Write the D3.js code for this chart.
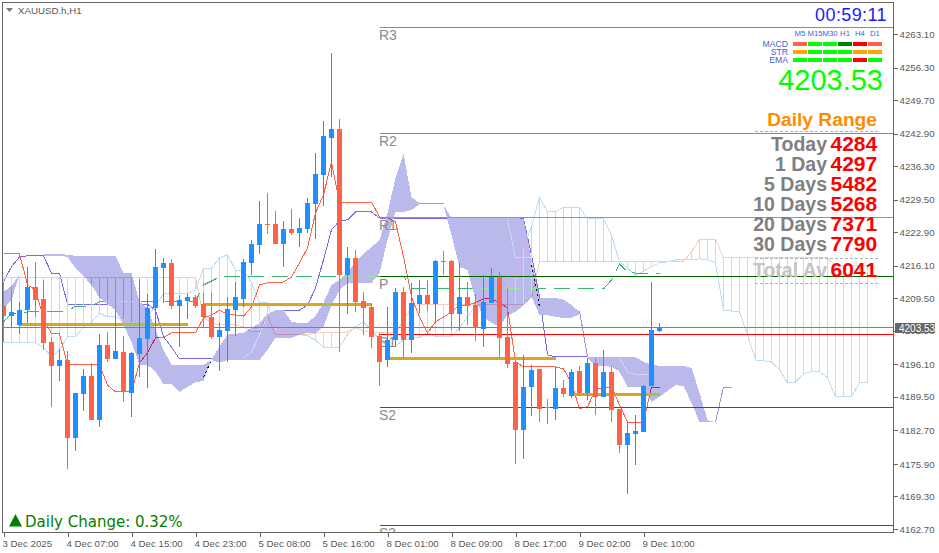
<!DOCTYPE html>
<html>
<head>
<meta charset="utf-8">
<script src="https://cdn.jsdelivr.net/npm/d3@7"></script>
<style>
  html, body { margin: 0; padding: 0; background: #fff; }
  svg { display: block; }
  text { font-family: "Liberation Sans", Arial, sans-serif; }
</style>
</head>
<body>
<div id="chart"></div>
<script>
// hourly candles, bar 0 is 3 Dec 2025 23:00
const candleOpen = [4207.9,4205.9,4204.1,4207.1,4211.8,4209.4,4200.6,4195.8,4197.0,4181.2,
  4190.1,4193.7,4184.8,4200.0,4197.2,4198.6,4190.3,4198.2,4201.3,4207.5,
  4215.6,4216.7,4207.9,4209.0,4209.8,4208.3,4205.7,4201.7,4202.9,4207.1,
  4209.4,4216.7,4220.3,4224.6,4224.6,4220.5,4223.6,4222.7,4223.6,4228.6,
  4234.5,4242.0,4243.8,4214.2,4217.7,4209.0,4207.7,4201.9,4197.0,4201.0,
  4210.8,4201.0,4208.3,4210.2,4208.3,4217.1,4217.1,4206.3,4209.8,4208.1,
  4203.3,4208.6,4213.8,4201.7,4196.6,4182.8,4191.5,4195.2,4187.5,4187.1,
  4191.3,4189.7,4194.8,4190.3,4196.4,4189.5,4194.6,4187.1,4179.8,4182.0,
  4182.4,4191.7,4202.9];
const candleHigh = [4212.8,4209.8,4208.8,4215.9,4216.9,4213.2,4201.7,4199.2,4198.8,4190.3,
  4195.2,4196.4,4202.3,4202.7,4207.1,4201.9,4198.6,4213.4,4210.4,4219.5,
  4217.7,4217.5,4210.2,4210.4,4210.2,4210.6,4210.6,4204.5,4209.8,4212.8,
  4217.5,4221.3,4229.2,4230.9,4227.2,4225.2,4227.6,4225.8,4229.8,4239.0,
  4245.5,4259.3,4245.9,4219.9,4219.3,4210.8,4208.6,4202.5,4207.7,4211.6,
  4211.8,4212.6,4213.2,4213.2,4217.3,4219.1,4217.3,4216.7,4212.8,4210.4,
  4214.2,4215.6,4214.8,4211.6,4196.6,4198.0,4196.0,4195.2,4189.1,4195.6,
  4192.9,4195.2,4195.8,4197.4,4197.4,4199.0,4195.8,4187.1,4184.4,4185.8,
  4191.9,4212.8,4204.5];
const candleLow = [4200.6,4203.7,4202.3,4204.5,4205.7,4199.0,4187.5,4192.7,4174.9,4178.5,
  4186.6,4184.8,4183.4,4196.6,4197.2,4188.5,4185.4,4193.5,4191.3,4201.5,
  4208.6,4207.3,4199.6,4205.3,4207.5,4203.7,4201.3,4194.8,4196.6,4201.9,
  4207.7,4214.2,4218.5,4222.5,4220.5,4215.9,4222.3,4219.9,4222.7,4221.5,
  4228.2,4234.1,4198.6,4206.3,4206.7,4202.1,4199.4,4191.7,4195.6,4199.6,
  4197.4,4198.4,4206.5,4206.9,4204.5,4214.2,4203.1,4202.9,4204.1,4200.8,
  4199.6,4208.6,4197.6,4195.4,4175.9,4176.9,4185.6,4184.4,4184.0,4184.8,
  4189.5,4189.3,4189.7,4188.9,4185.8,4189.5,4184.4,4178.1,4169.8,4175.7,
  4182.4,4191.7,4202.7];
const candleClose = [4205.9,4206.7,4207.1,4211.8,4209.2,4200.4,4195.8,4197.0,4181.2,4190.3,
  4193.7,4184.8,4200.0,4197.2,4198.8,4190.5,4198.4,4201.5,4207.5,4215.9,
  4216.7,4207.9,4209.2,4209.8,4207.9,4205.7,4201.7,4203.1,4207.3,4209.8,
  4216.9,4220.5,4224.6,4224.4,4220.5,4223.6,4222.7,4223.8,4228.8,4234.7,
  4242.4,4243.8,4214.2,4217.7,4208.8,4207.5,4201.7,4196.6,4201.0,4210.8,
  4201.0,4208.6,4210.2,4208.3,4217.1,4216.9,4206.3,4209.8,4207.9,4203.5,
  4208.8,4213.8,4201.5,4196.2,4182.8,4191.5,4195.0,4187.1,4187.3,4191.3,
  4190.1,4194.6,4190.3,4196.4,4189.5,4194.6,4186.9,4179.8,4182.2,4182.6,
  4191.7,4203.1,4203.5];

// ichimoku lines
const tenkan = [4218.5,4218.5,4218.5,4212.2,4211.2,4205.5,4202.3,4202.3,4196.0,4196.0,
  4196.0,4196.0,4196.0,4191.9,4190.5,4190.5,4190.5,4196.4,4198.4,4201.5,
  4201.5,4202.5,4202.5,4202.5,4202.5,4205.5,4206.1,4207.1,4206.3,4206.1,
  4205.9,4207.7,4212.2,4212.6,4212.6,4212.8,4213.8,4216.7,4219.7,4226.8,
  4230.5,4237.1,4229.0,4229.0,4229.0,4229.0,4229.0,4226.0,4225.8,4225.0,
  4217.9,4209.8,4205.7,4202.5,4204.7,4205.7,4206.7,4208.1,4208.1,4208.6,
  4209.4,4209.4,4208.6,4207.5,4196.6,4195.6,4195.6,4195.6,4195.6,4195.6,
  4195.2,4192.3,4187.1,4187.5,4190.9,4191.5,4191.5,4187.9,4184.4,4184.4,
  4184.4,4191.5,4191.5];
const kijun = [4212.8,4215.9,4217.9,4218.1,4218.1,4218.1,4214.6,4214.6,4208.3,4208.3,
  4208.3,4208.3,4208.3,4208.3,4208.3,4208.3,4208.3,4208.3,4208.3,4207.1,
  4201.7,4199.6,4197.2,4197.2,4197.2,4197.2,4197.2,4197.2,4197.2,4197.2,
  4197.2,4197.2,4197.2,4203.1,4206.1,4207.1,4207.1,4207.1,4208.1,4211.6,
  4217.3,4223.4,4225.2,4225.4,4227.0,4227.0,4227.0,4225.8,4225.6,4225.6,
  4225.6,4225.6,4225.6,4225.6,4225.6,4225.6,4225.6,4225.6,4225.6,4225.6,
  4225.6,4225.6,4225.6,4225.6,4225.6,4225.6,4218.3,4209.8,4198.0,4197.6,
  4197.6,4197.6,4197.6,4197.6,4197.4,4197.4,4197.4,4197.4,4197.4,4197.4,
  4194.0,4194.0,4194.0];
const spanA = [4200.6,4200.6,4200.6,4200.6,4200.4,4199.6,4197.6,4199.0,4201.7,4201.7,
  4203.7,4204.7,4206.5,4205.7,4205.7,4205.1,4204.5,4204.1,4205.5,4208.1,
  4210.4,4210.4,4210.4,4210.4,4211.2,4215.6,4215.6,4217.7,4218.3,4215.2,
  4215.2,4212.6,4208.6,4208.6,4203.5,4202.5,4202.3,4202.1,4201.9,4201.0,
  4199.6,4199.6,4199.6,4202.1,4203.7,4204.7,4203.1,4201.0,4199.8,4199.8,
  4201.0,4201.5,4201.5,4202.5,4201.7,4201.7,4201.7,4203.5,4205.7,4208.1,
  4208.8,4208.3,4208.3,4210.8,4213.8,4219.9,4224.0,4230.0,4227.0,4227.0,
  4228.0,4228.0,4228.0,4225.6,4225.6,4225.6,4222.3,4216.9,4215.6,4214.2,
  4215.0,4215.9,4216.7,4216.9,4217.3,4217.3,4217.3,4217.5,4217.3,4216.7,
  4207.1,4206.9,4206.7,4202.1,4197.0,4196.8,4196.6,4195.0,4192.3,4192.5,
  4194.2,4194.6,4194.6,4193.4,4189.5,4189.5,4189.5,4192.5,4192.3];
const spanB = [4213.8,4213.8,4213.8,4213.8,4213.8,4213.8,4213.8,4213.8,4213.8,4213.8,
  4213.8,4213.8,4213.8,4213.8,4213.8,4213.8,4213.8,4213.8,4213.8,4213.8,
  4213.8,4213.8,4213.8,4213.8,4213.8,4205.5,4204.5,4204.1,4204.1,4204.1,
  4203.7,4202.7,4202.7,4206.1,4202.1,4202.1,4202.1,4202.1,4202.1,4202.5,
  4202.5,4202.5,4202.5,4202.7,4203.5,4202.9,4202.5,4202.5,4202.5,4202.5,
  4205.1,4207.7,4208.3,4208.3,4208.3,4208.3,4208.3,4208.3,4208.3,4208.3,
  4208.3,4208.3,4208.3,4208.3,4208.3,4208.3,4209.6,4216.9,4216.9,4216.9,
  4216.9,4216.9,4216.9,4216.9,4216.9,4216.9,4216.9,4216.9,4216.9,4216.9,
  4216.9,4216.9,4216.9,4216.9,4216.9,4216.9,4218.9,4221.5,4221.5,4221.5,
  4217.7,4217.7,4217.7,4217.7,4217.7,4217.7,4217.7,4217.7,4217.7,4217.7,
  4217.7,4217.7,4217.7,4217.7,4216.1,4216.1,4216.1,4216.1,4216.1];
const greenLine = [4204.7,4206.5,4206.5,4206.7,4206.9,4206.9,4206.9,4206.9,4206.9,4207.9,
  4207.9,4207.9,4208.8,4208.8,4208.8,4208.8,4208.8,4208.8,4208.8,4208.8,
  4208.8,4208.8,4208.8,4208.8,4208.8,4212.2,4213.0,4213.8,4214.0,4214.0,
  4214.0,4214.0,4214.0,4214.0,4214.0,4214.0,4214.0,4214.0,4214.0,4214.0,
  4214.0,4214.0,4214.0,4214.0,4214.0,4214.0,4214.0,4214.0,4214.0,4214.0,
  4214.0,4211.6,4211.4,4211.4,4211.4,4211.4,4211.4,4211.4,4211.4,4211.4,
  4211.4,4211.4,4211.4,4211.4,4211.4,4211.4,4211.4,4211.4,4211.4,4211.4,
  4211.4,4211.4,4211.4,4211.4,4211.4,4211.4,4213.2,4216.5,4214.8,4214.6,
  4214.6,4214.6,4214.6];

// lavender band, null where it is absent
const bandUpper = [4210.8,4212.0,4214.2,null,null,4218.5,4218.5,4218.5,4218.3,4218.1,
  4218.1,4218.1,4218.1,4218.1,4218.1,4214.6,4214.6,4208.8,4207.5,4203.1,
  4199.0,4196.0,4196.0,4196.0,4196.0,4196.0,4197.0,4199.8,4202.1,4202.3,
  4202.5,4203.5,4204.5,4206.3,4207.1,4207.1,4204.7,4204.5,4204.5,4205.9,
  4208.6,4212.2,4213.2,4214.8,4216.7,4218.5,4219.9,4221.3,4226.8,4233.9,
  4238.8,4230.0,4228.8,null,null,4228.4,4225.8,4225.8,4225.8,4225.8,
  4225.8,4225.8,4225.8,4225.8,4225.8,4225.6,4217.3,4209.6,4209.6,4209.6,
  4209.2,4208.1,4206.7,4197.6,4197.6,4197.6,4197.6,4197.6,4197.6,4197.6,
  4196.6,4196.0,4195.8,4195.8,4195.8,4195.8,4195.4,4190.3,4184.8,4184.4];
const bandLower = [4207.3,4209.2,4214.2,null,null,4218.1,4218.1,4218.1,4217.9,4215.6,
  4214.0,4212.2,4209.6,4208.3,4207.1,4204.1,4200.6,4196.0,4196.0,4194.6,
  4192.1,4192.1,4190.5,4191.5,4192.5,4192.7,4197.0,4196.4,4197.0,4197.0,
  4197.0,4197.0,4197.0,4199.0,4201.5,4201.5,4201.5,4202.1,4202.5,4202.5,
  4203.7,4208.1,4211.2,4212.6,4212.6,4212.6,4212.6,4214.6,4221.3,4227.0,
  4227.0,4227.4,4228.6,null,null,4228.4,4222.3,4215.9,4215.2,4209.2,
  4205.7,4204.5,4203.7,4206.1,4206.7,4208.1,4209.8,4206.1,4206.1,4205.7,
  4205.5,4205.5,4206.3,4197.4,4195.8,4195.8,4195.6,4194.6,4191.5,4191.5,
  4191.5,4188.5,4189.5,4190.7,4191.9,4191.7,4188.3,4184.4,4184.4,4184.4];
const bandLobes = [[0, 2], [5, 52], [55, 72], [73, 89]];

// short loose lines round the band, [bar, price]
const slateSegments = [
  [[52, 4228.8], [55, 4228.8]],
  [[72, 4206.9], [73, 4197.6]],
  [[89, 4184.4], [90, 4191.5], [91, 4191.5]]
];
const paleSegments = [
  [[30, 4197.4], [31, 4198.6], [32, 4202.1], [33, 4206.1]],
  [[63, 4225.4], [64, 4217.7], [65, 4217.7], [66, 4217.7]],
  [[77, 4197.4], [78, 4194.6], [79, 4194.0], [80, 4194.0], [81, 4194.0]]
];
const dottedSegments = [
  [[25, 4193.5], [26, 4197.0]],
  [[66, 4216.3], [67, 4207.7]]
];

// pivot levels
const levelNames = ['R3', 'R2', 'R1', 'P', 'S1', 'S2', 'S3'];
const levelPrices = [4264.5, 4243.0, 4225.8, 4214.0, 4202.2, 4187.4, 4163.5];
const levelColours = ['#6f9a7c', '#55b055', '#33dd33', '#006400', '#ff0000', '#c8143c', '#a52a2a'];

// thick daily levels
const goldStart = [2, 25, 48, 71];
const goldEnd = [23, 46, 69, 82];
const goldPrice = [4204.2, 4208.3, 4197.2, 4189.9];

const bidPrice = 4203.53;

const priceTicks = [4263.10, 4256.30, 4249.70, 4242.90, 4236.30, 4229.50, 4222.90, 4216.10,
  4209.50, 4202.90, 4196.10, 4189.50, 4182.70, 4175.90, 4169.30, 4162.70];
const timeTicks = [0, 8, 16, 24, 32, 40, 48, 56, 64, 72, 80];
const timeLabels = ['3 Dec 2025', '4 Dec 07:00', '4 Dec 15:00', '4 Dec 23:00', '5 Dec 08:00',
  '5 Dec 16:00', '8 Dec 01:00', '8 Dec 09:00', '8 Dec 17:00', '9 Dec 02:00', '9 Dec 10:00'];

// signal table
const timeframes = ['M5', 'M15', 'M30', 'H1', 'H4', 'D1'];
const signalRows = ['MACD', 'STR', 'EMA'];
const macdSignals = ['#ff6347', '#00ff00', '#00ff00', '#008000', '#ff0000', '#ff6347'];
const strSignals = ['#ffa500', '#00ff00', '#00ff00', '#00ff00', '#ffa500', '#ffa500'];
const emaSignals = ['#00ff00', '#00ff00', '#00ff00', '#00ff00', '#ff0000', '#00ff00'];

// daily range panel
const rangeLabels = ['Today', '1 Day', '5 Days', '10 Days', '20 Days', '30 Days', 'Total Av'];
const rangeValues = [4284, 4297, 5482, 5268, 7371, 7790, 6041];
const rangeBaselines = [151, 171, 191, 211, 231, 251, 277];

const width = 939, height = 553;
const plotLeft = 3, plotTop = 3, plotRight = 893, plotBottom = 532;
const lavender = '#b9b9ec', peach = '#f5cfbe', skyLine = '#bcdcf8';

const x = d3.scaleLinear().domain([0, 108]).range([3.5, 867.5]);
const y = d3.scaleLinear().domain([4263.1, 4162.7]).range([34, 529]);
const snap = v => Math.floor(v) + 0.5;

const svg = d3.select('#chart').append('svg:svg')
  .attr('width', width)
  .attr('height', height)
  .attr('shape-rendering', 'crispEdges');

const defs = svg.append('defs');
defs.append('clipPath').attr('id', 'plot_clip')
  .append('rect')
  .attr('x', plotLeft)
  .attr('y', plotTop)
  .attr('width', plotRight - plotLeft)
  .attr('height', plotBottom - plotTop);

const bandArea = d3.area()
  .x(d => x(d.i))
  .y0(d => y(d.lo))
  .y1(d => y(d.up));

const lobePoints = bandLobes.map(function(lobe) {
  return d3.range(lobe[0], lobe[1] + 1).map(i => ({i: i, up: bandUpper[i], lo: bandLower[i]}));
});

defs.append('clipPath').attr('id', 'band_clip')
  .selectAll('path')
  .data(lobePoints)
  .join('path')
  .attr('d', bandArea);

const seriesLine = d3.line()
  .defined(d => d !== null)
  .x((d, i) => x(i))
  .y(d => y(d));
const segmentLine = d3.line()
  .x(d => x(d[0]))
  .y(d => y(d[1]));

const plot = svg.append('g').attr('clip-path', 'url(#plot_clip)');

function addLine(parent, data, colour, dash) {
  return parent.append('path')
    .attr('d', seriesLine(data))
    .attr('fill', 'none')
    .attr('stroke', colour)
    .attr('stroke-width', 1)
    .attr('stroke-dasharray', dash || null);
}

function addSegments(parent, segments, colour, dash) {
  parent.append('g')
    .selectAll('path')
    .data(segments)
    .join('path')
    .attr('d', segmentLine)
    .attr('fill', 'none')
    .attr('stroke', colour)
    .attr('stroke-dasharray', dash || null);
}

function addGold(parent, colour) {
  parent.append('g')
    .selectAll('line')
    .data(goldPrice)
    .join('line')
    .attr('x1', (d, i) => x(goldStart[i]))
    .attr('x2', (d, i) => x(goldEnd[i]))
    .attr('y1', d => snap(y(d)))
    .attr('y2', d => snap(y(d)))
    .attr('stroke', colour)
    .attr('stroke-width', 3);
}

function addCloudBars(parent, topColour, bottomColour) {
  parent.append('g')
    .selectAll('line')
    .data(spanA)
    .join('line')
    .attr('x1', (d, i) => x(i))
    .attr('x2', (d, i) => x(i))
    .attr('y1', d => y(d))
    .attr('y2', (d, i) => y(spanB[i]))
    .attr('stroke', (d, i) => spanB[i] > d ? topColour : bottomColour);
}

addLine(plot, kijun, '#7b68ee');

plot.append('g')
  .selectAll('path')
  .data(lobePoints)
  .join('path')
  .attr('d', bandArea)
  .attr('fill', lavender);

addCloudBars(plot, peach, skyLine);
addLine(plot, spanA, skyLine);
addLine(plot, spanB, peach);
addLine(plot, greenLine, '#3cb371', '16,8');
addLine(plot, tenkan, '#ff6347');
addSegments(plot, slateSegments, '#9d93e6');
addGold(plot, '#daa520');

// marks crossing the band change tone there
const inBand = plot.append('g').attr('clip-path', 'url(#band_clip)');
addCloudBars(inBand, '#a5859f', '#cdd3f4');
addLine(inBand, spanA, '#e6a4e2');
addLine(inBand, spanB, '#b98fbd');
addLine(inBand, greenLine, '#9de89d', '16,8');
addLine(inBand, tenkan, '#c0245a');
addGold(inBand, '#9acd32');
addSegments(plot, paleSegments, '#d3d7f6');
addSegments(plot, dottedSegments, '#111', '2,3');

// pivot levels
plot.append('g')
  .selectAll('line')
  .data(levelPrices)
  .join('line')
  .attr('x1', x(47))
  .attr('x2', plotRight)
  .attr('y1', d => snap(y(d)))
  .attr('y2', d => snap(y(d)))
  .attr('stroke', (d, i) => levelColours[i]);

plot.append('g')
  .selectAll('text')
  .data(levelNames)
  .join('text')
  .attr('x', x(47) - 0.5)
  .attr('y', (d, i) => snap(y(levelPrices[i])) + 12.5)
  .attr('font-size', 14)
  .attr('fill', '#8a8a8a')
  .text(d => d);

// bid line
plot.append('line')
  .attr('x1', plotLeft)
  .attr('x2', plotRight)
  .attr('y1', snap(y(bidPrice)))
  .attr('y2', snap(y(bidPrice)))
  .attr('stroke', '#808080');

// candles
const candles = plot.append('g')
  .selectAll('g.candle')
  .data(candleOpen)
  .join('g')
  .attr('class', 'candle')
  .attr('fill', (d, i) => candleClose[i] >= d ? '#1e90ff' : '#ff6347');
candles.append('rect')
  .attr('x', (d, i) => x(i) - 0.5)
  .attr('width', 1)
  .attr('y', (d, i) => Math.round(y(candleHigh[i])))
  .attr('height', (d, i) => Math.round(y(candleLow[i])) - Math.round(y(candleHigh[i])));
candles.append('rect')
  .attr('x', (d, i) => x(i) - 2.5)
  .attr('width', 5)
  .attr('y', (d, i) => Math.round(y(Math.max(d, candleClose[i]))))
  .attr('height', (d, i) => Math.max(1, Math.round(y(Math.min(d, candleClose[i]))) - Math.round(y(Math.max(d, candleClose[i])))));

// frame and axes
svg.append('path')
  .attr('d', 'M' + (plotLeft - 0.5) + ',' + plotBottom + 'V' + (plotTop - 0.5) + 'H' + (plotRight + 0.5))
  .attr('fill', 'none')
  .attr('stroke', '#666');

const axisRight = svg.append('g')
  .attr('transform', 'translate(' + (plotRight + 0.5) + ',0)')
  .call(d3.axisRight(y).tickValues(priceTicks).tickSize(4).tickSizeOuter(0).tickPadding(2).tickFormat(d3.format('.2f')));
axisRight.select('.domain').attr('d', 'M0,' + (plotTop - 0.5) + 'V' + (plotBottom + 0.5)).attr('stroke', '#666');
axisRight.selectAll('line').attr('stroke', '#666');
axisRight.selectAll('text').attr('font-size', 9.7).attr('fill', '#5a5a5a').attr('font-family', '"Liberation Sans"');

const axisBottom = svg.append('g')
  .attr('transform', 'translate(0,' + (plotBottom + 0.5) + ')')
  .call(d3.axisBottom(x).tickValues(timeTicks).tickSize(4).tickSizeOuter(0).tickPadding(4)
    .tickFormat((d, i) => timeLabels[i]));
axisBottom.select('.domain').attr('d', 'M' + (plotLeft - 1) + ',0H' + (plotRight + 1)).attr('stroke', '#666');
axisBottom.selectAll('line').attr('stroke', '#666');
axisBottom.selectAll('text')
  .attr('font-size', 9.7)
  .attr('fill', '#5a5a5a')
  .attr('font-family', '"Liberation Sans"')
  .attr('text-anchor', 'start')
  .attr('x', -1.5);

// current price tag
svg.append('rect')
  .attr('x', 895).attr('y', 323)
  .attr('width', 40).attr('height', 10)
  .attr('fill', '#666');
svg.append('text')
  .attr('x', 899).attr('y', 332)
  .attr('font-size', 10)
  .attr('fill', '#fff')
  .text(d3.format('.2f')(bidPrice));

// symbol caption
svg.append('path')
  .attr('d', 'M6,8h7l-3.5,4z')
  .attr('fill', '#777')
  .attr('shape-rendering', 'auto');
svg.append('text')
  .attr('x', 18).attr('y', 14)
  .attr('font-size', 9.7)
  .attr('fill', '#555')
  .text('XAUUSD.h,H1');

// countdown
svg.append('text')
  .attr('x', 887).attr('y', 21)
  .attr('text-anchor', 'end')
  .attr('font-size', 18)
  .attr('letter-spacing', 0.4)
  .attr('fill', '#1a1aff')
  .text('00:59:11');

// signal table
const colScale = d3.scaleBand().domain(timeframes).range([793, 882]).paddingInner(0.06);
const rowScale = d3.scalePoint().domain(signalRows).range([44, 60]);
const signalColours = [macdSignals, strSignals, emaSignals];

svg.append('g')
  .selectAll('text')
  .data(timeframes)
  .join('text')
  .attr('x', d => colScale(d) + colScale.bandwidth() / 2)
  .attr('y', 36)
  .attr('text-anchor', 'middle')
  .attr('font-size', 7.8)
  .attr('fill', '#3f5fd8')
  .text(d => d);
svg.append('g')
  .selectAll('text')
  .data(signalRows)
  .join('text')
  .attr('x', 788)
  .attr('y', d => rowScale(d) + 3)
  .attr('text-anchor', 'end')
  .attr('font-size', 8.7)
  .attr('fill', '#3f5fd8')
  .text(d => d);
signalRows.forEach(function(row, r) {
  svg.append('g')
    .selectAll('rect')
    .data(signalColours[r])
    .join('rect')
    .attr('x', (d, i) => colScale(timeframes[i]))
    .attr('y', rowScale(row) - 2)
    .attr('width', colScale.bandwidth())
    .attr('height', 4)
    .attr('fill', d => d);
});

// big price
svg.append('text')
  .attr('x', 883).attr('y', 90)
  .attr('text-anchor', 'end')
  .attr('font-size', 29)
  .attr('fill', '#00ff00')
  .text('4203.53');

// daily range panel
svg.append('text')
  .attr('x', 877).attr('y', 126)
  .attr('text-anchor', 'end')
  .attr('font-size', 19.2)
  .attr('font-weight', 'bold')
  .attr('fill', '#ff8c00')
  .text('Daily Range');

svg.append('g')
  .selectAll('line')
  .data([131, 258, 283])
  .join('line')
  .attr('x1', 755).attr('x2', 878)
  .attr('y1', d => d + 0.5).attr('y2', d => d + 0.5)
  .attr('stroke', '#b0b0b0')
  .attr('stroke-dasharray', '3,2');

svg.append('g')
  .selectAll('text')
  .data(rangeLabels)
  .join('text')
  .attr('x', 827)
  .attr('y', (d, i) => rangeBaselines[i])
  .attr('text-anchor', 'end')
  .attr('font-size', 19.5)
  .attr('font-weight', 'bold')
  .attr('fill', (d, i) => i === 6 ? '#c4c4c4' : '#808080')
  .text(d => d);
svg.append('g')
  .selectAll('text')
  .data(rangeValues)
  .join('text')
  .attr('x', 830.5)
  .attr('y', (d, i) => rangeBaselines[i])
  .attr('font-size', 21)
  .attr('font-weight', 'bold')
  .attr('fill', '#ff0000')
  .text(d => d);

// daily change
svg.append('path')
  .attr('d', 'M9,526.5L15.5,514L22,526.5Z')
  .attr('fill', '#008000')
  .attr('shape-rendering', 'auto');
svg.append('text')
  .attr('x', 25).attr('y', 527)
  .style('font-family', '"DejaVu Sans"')
  .attr('font-size', 15)
  .attr('fill', '#008000')
  .text('Daily Change: 0.32%');
</script>
</body>
</html>
